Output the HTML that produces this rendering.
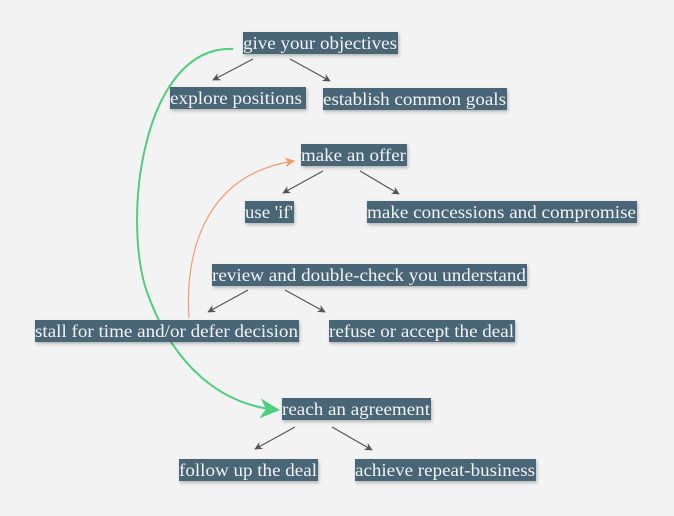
<!DOCTYPE html>
<html><head><style>
html,body{margin:0;padding:0;background:#f3f3f3;}
svg{display:block}
text{font-family:"Liberation Serif",serif;font-size:18px;fill:#f2f2f2;}
</style></head><body>
<svg width="674" height="516" viewBox="0 0 674 516">
<defs>
<marker id="a" viewBox="0 0 10 10" refX="9" refY="5" markerWidth="8" markerHeight="8" orient="auto-start-reverse" markerUnits="userSpaceOnUse">
<path d="M0,0 L10,5 L0,10 L3,5 z" fill="#555"/></marker>
<marker id="o" viewBox="0 0 10 10" refX="9" refY="5" markerWidth="12" markerHeight="10" orient="auto" markerUnits="userSpaceOnUse">
<path d="M0,0 L10,5 L0,10 L3,5 z" fill="#f79a6a"/></marker>
<marker id="g" viewBox="0 0 10 10" refX="9" refY="5" markerWidth="30" markerHeight="20" orient="auto" markerUnits="userSpaceOnUse">
<path d="M0,0 L10,5 L0,10 L3,5 z" fill="#4ccf7f"/></marker>
<filter id="s"><feDropShadow dx="1" dy="2" stdDeviation="1.5" flood-opacity="0.25"/></filter>
</defs>
<g stroke="#555" stroke-width="1.2" fill="none" marker-end="url(#a)">
<line x1="253" y1="59" x2="213" y2="80"/>
<line x1="290" y1="59" x2="330" y2="81"/>
<line x1="323" y1="171" x2="283" y2="193"/>
<line x1="360" y1="171" x2="399" y2="194"/>
<line x1="248" y1="290" x2="208" y2="312"/>
<line x1="285" y1="290" x2="325" y2="312"/>
<line x1="295" y1="427" x2="255" y2="449"/>
<line x1="332" y1="427" x2="372" y2="450"/>
</g>
<path d="M189,318 C185,260 200,175 294,161" stroke="#f79a6a" stroke-width="1.2" fill="none" marker-end="url(#o)"/>
<path d="M233,49 C140,45 120,230 150,300 C175,365 220,405 278,410" stroke="#4ccf7f" stroke-width="2" fill="none" marker-end="url(#g)"/>
<g fill="#4a6677" filter="url(#s)">
<rect x="243" y="32" width="155" height="22"/>
<rect x="170" y="87" width="136" height="22"/>
<rect x="323" y="88" width="184" height="22"/>
<rect x="301" y="144" width="106" height="22"/>
<rect x="245" y="201" width="49" height="22"/>
<rect x="367" y="201" width="270" height="22"/>
<rect x="212" y="264" width="315" height="22"/>
<rect x="35" y="320" width="264" height="22"/>
<rect x="329" y="320" width="186" height="22"/>
<rect x="282" y="398" width="149" height="22"/>
<rect x="179" y="459" width="139" height="22"/>
<rect x="355" y="459" width="181" height="22"/>
</g>
<text x="243" y="49" textLength="154" lengthAdjust="spacingAndGlyphs">give your objectives</text>
<text x="170" y="104" textLength="132" lengthAdjust="spacingAndGlyphs">explore positions</text>
<text x="323" y="105" textLength="183" lengthAdjust="spacingAndGlyphs">establish common goals</text>
<text x="301" y="161" textLength="105" lengthAdjust="spacingAndGlyphs">make an offer</text>
<text x="245" y="218" textLength="48" lengthAdjust="spacingAndGlyphs">use 'if'</text>
<text x="367" y="218" textLength="269" lengthAdjust="spacingAndGlyphs">make concessions and compromise</text>
<text x="212" y="281" textLength="314" lengthAdjust="spacingAndGlyphs">review and double-check you understand</text>
<text x="35" y="337" textLength="263" lengthAdjust="spacingAndGlyphs">stall for time and/or defer decision</text>
<text x="329" y="337" textLength="185" lengthAdjust="spacingAndGlyphs">refuse or accept the deal</text>
<text x="282" y="415" textLength="148" lengthAdjust="spacingAndGlyphs">reach an agreement</text>
<text x="179" y="476" textLength="138" lengthAdjust="spacingAndGlyphs">follow up the deal</text>
<text x="355" y="476" textLength="180" lengthAdjust="spacingAndGlyphs">achieve repeat-business</text>
</svg>
</body></html>
